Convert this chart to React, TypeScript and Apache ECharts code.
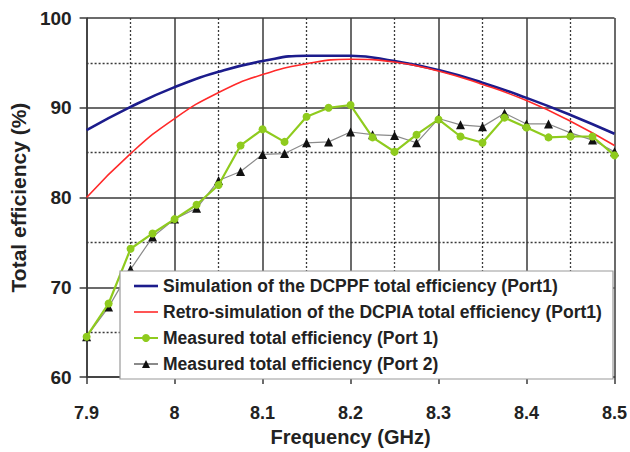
import React, { useEffect, useRef } from "react";
import * as echarts from "echarts";

const simFreq = [7.9, 7.95, 8.0, 8.05, 8.1, 8.15, 8.2, 8.25, 8.3, 8.35, 8.4, 8.45, 8.5];
const simDCPPF = [87.5, 90.1, 92.3, 94.0, 95.2, 95.8, 95.8, 95.2, 94.2, 92.8, 91.1, 89.2, 87.1];
const retroDCPIA = [80.0, 84.9, 88.8, 91.7, 93.7, 94.9, 95.4, 95.1, 94.1, 92.6, 90.8, 88.5, 85.8];

const measFreq = [
  7.9, 7.925, 7.95, 7.975, 8.0, 8.025, 8.05, 8.075, 8.1, 8.125, 8.15, 8.175, 8.2,
  8.225, 8.25, 8.275, 8.3, 8.325, 8.35, 8.375, 8.4, 8.425, 8.45, 8.475, 8.5,
];
const measPort1 = [
  64.5, 68.2, 74.3, 76.0, 77.6, 79.2, 81.4, 85.8, 87.6, 86.2, 89.0, 90.0, 90.3,
  86.7, 85.1, 87.0, 88.7, 86.8, 86.1, 88.9, 87.8, 86.7, 86.8, 86.8, 84.7,
];
const measPort2 = [
  64.5, 67.8, 72.0, 75.6, 77.6, 78.8, 81.9, 82.9, 84.8, 84.9, 86.1, 86.2, 87.3,
  87.0, 86.9, 86.1, 88.8, 88.1, 87.9, 89.4, 88.2, 88.2, 87.2, 86.4, 85.1,
];

const seriesNames = [
  "Simulation of the DCPPF total efficiency (Port1)",
  "Retro-simulation of the DCPIA total efficiency (Port1)",
  "Measured total efficiency (Port 1)",
  "Measured total efficiency (Port 2)",
];

const pairs = (xs: number[], ys: number[]) => xs.map((x, i) => [x, ys[i]]);

const FONT = "Arial, 'Liberation Sans', sans-serif";
const TXT = "#222";
const BLUE = "#1c1c8c";
const RED = "#ff2a2a";
const GREEN = "#8fcb1e";

export default function App() {
  const ref = useRef<HTMLDivElement>(null);
  useEffect(() => {
    if (!ref.current) return;
    const chart = echarts.init(ref.current, undefined, { renderer: "svg" });
    const gridColor = "#3a3a3a";
    chart.setOption({
      animation: false,
      backgroundColor: "#ffffff",
      grid: { left: 83, right: 15, top: 18, bottom: 73 },
      xAxis: {
        type: "value",
        min: 7.9,
        max: 8.5,
        interval: 0.1,
        name: "Frequency (GHz)",
        nameLocation: "middle",
        nameGap: 47,
        nameTextStyle: { fontFamily: FONT, fontWeight: "bold", fontSize: 20, color: TXT },
        axisLine: { show: true, lineStyle: { color: gridColor, width: 1.5 } },
        axisTick: { show: true, inside: false, length: 7, lineStyle: { color: gridColor, width: 1.5 } },
        axisLabel: {
          margin: 27,
          fontFamily: FONT,
          fontWeight: "bold",
          fontSize: 18,
          color: TXT,
          formatter: (v: number) => String(Math.round(v * 10) / 10),
        },
        splitLine: { show: true, lineStyle: { color: gridColor, width: 1.5 } },
        minorTick: { show: false, splitNumber: 2 },
        minorSplitLine: { show: true, lineStyle: { color: gridColor, width: 1.3, type: [2, 2] } },
      },
      yAxis: {
        type: "value",
        min: 60,
        max: 100,
        interval: 10,
        name: "Total efficiency (%)",
        nameLocation: "middle",
        nameGap: 56,
        nameTextStyle: { fontFamily: FONT, fontWeight: "bold", fontSize: 21, color: TXT },
        axisLine: { show: true, lineStyle: { color: gridColor, width: 1.5 } },
        axisTick: { show: true, inside: false, length: 7, lineStyle: { color: gridColor, width: 1.5 } },
        axisLabel: {
          margin: 15,
          fontFamily: FONT,
          fontWeight: "bold",
          fontSize: 19,
          color: TXT,
        },
        splitLine: { show: true, lineStyle: { color: gridColor, width: 1.5 } },
        minorTick: { show: false, splitNumber: 2 },
        minorSplitLine: { show: true, lineStyle: { color: gridColor, width: 1.3, type: [2, 2] } },
      },
      graphic: [
        {
          type: "rect",
          z: 50,
          shape: { x: 120, y: 271, width: 493, height: 108 },
          style: { fill: "#ffffff", stroke: "#9a9a9a", lineWidth: 1.2 },
        },
      ],
      legend: {
        orient: "vertical",
        left: 133,
        top: 277,
        padding: 0,
        z: 60,
        itemWidth: 24,
        itemHeight: 10,
        itemGap: 8,
        symbolKeepAspect: true,
        textStyle: { fontFamily: FONT, fontWeight: "bold", fontSize: 17.5, lineHeight: 17.5, color: TXT },
        data: [
          { name: seriesNames[0], icon: "path://M0,0 L24,0 L24,2.6 L0,2.6 Z" },
          { name: seriesNames[1], icon: "path://M0,0 L24,0 L24,1.6 L0,1.6 Z" },
          { name: seriesNames[2] },
          { name: seriesNames[3] },
        ],
      },
      series: [
        {
          name: seriesNames[0],
          type: "line",
          smooth: 0.5,
          symbol: "none",
          data: pairs(simFreq, simDCPPF),
          lineStyle: { color: BLUE, width: 2.6 },
          itemStyle: { color: BLUE },
          z: 3,
        },
        {
          name: seriesNames[1],
          type: "line",
          smooth: 0.5,
          symbol: "none",
          data: pairs(simFreq, retroDCPIA),
          lineStyle: { color: RED, width: 1.6 },
          itemStyle: { color: RED },
          z: 4,
        },
        {
          name: seriesNames[3],
          type: "line",
          symbol: "triangle",
          symbolSize: 9,
          data: pairs(measFreq, measPort2),
          lineStyle: { color: "#8a8a8a", width: 1.2 },
          itemStyle: { color: "#111111" },
          z: 5,
        },
        {
          name: seriesNames[2],
          type: "line",
          symbol: "circle",
          symbolSize: 8,
          data: pairs(measFreq, measPort1),
          lineStyle: { color: GREEN, width: 2.2 },
          itemStyle: { color: GREEN },
          z: 6,
        },
      ],
    });
    return () => chart.dispose();
  }, []);
  return (
    <div
      ref={ref}
      style={{ position: "fixed", left: 0, top: 0, width: 630, height: 452 }}
    />
  );
}
